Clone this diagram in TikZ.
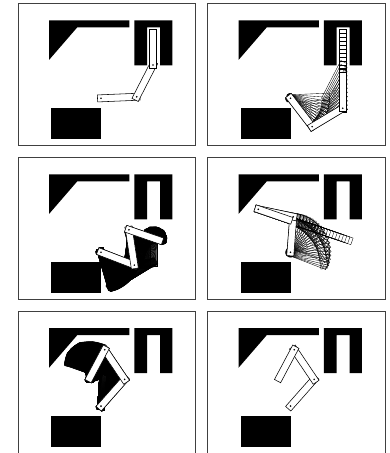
\documentclass[tikz,border=0pt]{standalone}
\usepackage{tikz}

\tikzset{
  panelframe/.style={draw=black!75, line width=0.9bp},
  obstacle/.style={fill=black},
  armlink/.style={draw=black, fill=white, line width=0.55bp},
  sweepline/.style={draw=black, line width=0.35bp},
  jointhole/.style={fill=black}
}

% one link: hole at (x,y), angle counted upwards
\newcommand{\linkbar}[5]{%
  \path[#5, shift={(#1,#2)}, rotate=#3] (-3.5,-3.5) rectangle (#4,3.5);
}
% whole arm from the fixed base, link angles a1 a2 a3
\newcommand{\drawarm}[4]{%
  \pgfmathsetmacro{\jx}{83+35.7*cos(#1)}
  \pgfmathsetmacro{\jy}{94.8-35.7*sin(#1)}
  \pgfmathsetmacro{\ex}{\jx+35.7*cos(#2)}
  \pgfmathsetmacro{\ey}{\jy-35.7*sin(#2)}
  \linkbar{83}{94.8}{#1}{39}{#4}
  \linkbar{\jx}{\jy}{#2}{39}{#4}
  \linkbar{\ex}{\ey}{#3}{35.5}{#4}
}
\newcommand{\solidarm}[3]{%
  \drawarm{#1}{#2}{#3}{armlink}
  \fill[jointhole] (83,94.8) circle (0.9);
  \fill[jointhole] (\jx,\jy) circle (0.9);
  \fill[jointhole] (\ex,\ey) circle (0.9);
}
% sweep between two sets of link angles
\newcommand{\sweepangles}[7]{%
  \foreach \i in {0,...,#7} {
    \pgfmathsetmacro{\t}{\i/#7}
    \pgfmathsetmacro{\aone}{#1+(#4-#1)*\t}
    \pgfmathsetmacro{\atwo}{#2+(#5-#2)*\t}
    \pgfmathsetmacro{\athree}{#3+(#6-#3)*\t}
    \drawarm{\aone}{\atwo}{\athree}{sweepline}
  }
}
% sweep with the last link kept parallel, its hole on a straight track
\newcommand{\sweeptrack}[6]{%
  \foreach \i in {0,...,#6} {
    \pgfmathsetmacro{\t}{\i/#6}
    \pgfmathsetmacro{\dx}{#1+(#3-#1)*\t-83}
    \pgfmathsetmacro{\dy}{94.8-(#2+(#4-#2)*\t)}
    \pgfmathsetmacro{\dist}{veclen(\dx,\dy)}
    \pgfmathsetmacro{\phi}{atan2(\dy,\dx)}
    \pgfmathsetmacro{\bend}{acos(\dist/71.4)}
    \pgfmathsetmacro{\aone}{\phi-\bend}
    \pgfmathsetmacro{\atwo}{\phi+\bend}
    \drawarm{\aone}{\atwo}{#5}{sweepline}
  }
}
\newcommand{\workspace}{%
  \path[panelframe] (0,0) rectangle (177.5,142.3);
  \path[obstacle] (31,16.8) -- (111.3,16.8) -- (111.3,23.8) -- (59.3,23.8) -- (31,56.5) -- cycle;
  \path[obstacle] (116.3,16.8) -- (154.3,16.8) -- (154.3,61.8) -- (142,61.8) -- (142,23.8)
    -- (129,23.8) -- (129,61.8) -- (116.3,61.8) -- cycle;
  \path[obstacle] (33,104.5) rectangle (83,135.2);
}

\begin{document}
\begin{tikzpicture}[x=1bp, y=-1bp]
  \useasboundingbox (0,0) rectangle (389,453);

  % Row 1
  \begin{scope}[shift={(18,3.5)}]
    \workspace
    \solidarm{2.4}{62.8}{90}
  \end{scope}
  \begin{scope}[shift={(207.5,3.5)}]
    \workspace
    \sweeptrack{135}{61.5}{135.3}{104.8}{90}{11}
    \solidarm{-52.6}{31}{90}
  \end{scope}

  % Row 2
  \begin{scope}[shift={(18,157.5)}]
    \workspace
    \sweepangles{-52.6}{31}{90}{-74}{38}{75}{40}
    \sweepangles{-74}{38}{75}{-62.4}{62.4}{35}{60}
    \sweepangles{-62.4}{62.4}{35}{-47}{82}{8}{50}
    \sweepangles{-47}{82}{8}{-21}{98.7}{-19}{50}
    \solidarm{-21}{98.7}{-19}
  \end{scope}
  \begin{scope}[shift={(207.5,157.5)}]
    \workspace
    \sweeptrack{110.9}{72.3}{50.8}{51.8}{-19}{19}
    \solidarm{85.6}{168}{-19}
  \end{scope}

  % Row 3
  \begin{scope}[shift={(18,311.3)}]
    \workspace
    \sweepangles{85.6}{168}{-19}{86.1}{151.5}{-45}{40}
    \sweepangles{86.1}{151.5}{-45}{81}{139}{-70}{40}
    \sweepangles{81}{139}{-70}{66}{130.6}{-95}{40}
    \sweepangles{66}{130.6}{-95}{48.5}{124}{-118}{40}
    \solidarm{48.5}{124}{-118}
  \end{scope}
  \begin{scope}[shift={(207.5,311.3)}]
    \workspace
    \solidarm{48.5}{124}{-118}
  \end{scope}
\end{tikzpicture}
\end{document}
